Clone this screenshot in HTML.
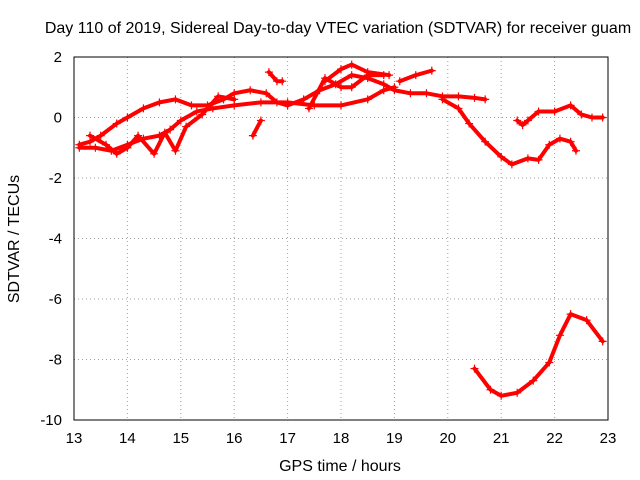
<!DOCTYPE html>
<html><head><meta charset="utf-8"><style>
body{margin:0;background:#fff}
svg{display:block;font-family:"Liberation Sans",sans-serif}
</style></head><body>
<svg id="chart" width="640" height="480" viewBox="0 0 640 480" xmlns="http://www.w3.org/2000/svg">
<rect width="640" height="480" fill="#fff"/>
<text x="338" y="33" font-size="16" text-anchor="middle">Day 110 of 2019, Sidereal Day-to-day VTEC variation (SDTVAR) for receiver guam</text>
<text x="340" y="471" font-size="16" text-anchor="middle">GPS time / hours</text>
<text x="19" y="239" font-size="16" text-anchor="middle" transform="rotate(-90 19 239)">SDTVAR / TECUs</text>
<g id="grid"></g>
<g id="ticks"></g>
<g id="series"></g>
<rect x="74" y="57" width="534" height="363" fill="none" stroke="#000" stroke-width="1"/>
</svg>
<script>
const xTicks=[13,14,15,16,17,18,19,20,21,22,23];
const yTicks=[2,0,-2,-4,-6,-8,-10];
const trackA=[[13.1,-0.9],[13.3,-0.8],[13.5,-0.6],[13.8,-0.2],[14.0,0.0],[14.3,0.3],[14.6,0.5],[14.9,0.6],[15.2,0.4],[15.5,0.4],[15.8,0.6],[16.0,0.8],[16.3,0.9],[16.6,0.8],[16.8,0.5],[17.0,0.4],[17.3,0.6],[17.6,0.9],[17.9,1.1],[18.2,1.4],[18.5,1.3],[18.8,1.1],[19.0,0.9],[19.3,0.8],[19.6,0.8],[19.9,0.7],[20.2,0.7],[20.5,0.65],[20.7,0.6]];
const trackB=[[13.1,-1.0],[13.4,-1.0],[13.7,-1.1],[14.0,-0.9],[14.3,-0.7],[14.6,-0.6],[14.8,-0.4],[15.0,-0.1],[15.3,0.2],[15.6,0.3],[16.0,0.4],[16.5,0.5],[17.0,0.5],[17.5,0.4],[18.0,0.4],[18.5,0.6],[18.8,0.9],[19.0,1.0]];
const trackC=[[13.3,-0.6],[13.6,-0.9],[13.8,-1.2],[14.0,-1.0],[14.2,-0.6],[14.5,-1.2],[14.7,-0.5],[14.9,-1.1],[15.1,-0.3],[15.4,0.1],[15.7,0.7],[16.0,0.6]];
const trackD=[[17.4,0.3],[17.7,1.3],[18.0,1.0],[18.2,1.0],[18.5,1.4],[18.8,1.4]];
const trackE=[[17.7,1.2],[18.0,1.6],[18.2,1.75],[18.5,1.5],[18.9,1.4]];
const trackF=[[19.1,1.2],[19.4,1.4],[19.7,1.55]];
const trackG=[[19.9,0.6],[20.2,0.3],[20.4,-0.2],[20.7,-0.8],[21.0,-1.3],[21.2,-1.55],[21.5,-1.35],[21.7,-1.4],[21.9,-0.9],[22.1,-0.7],[22.3,-0.8],[22.4,-1.1]];
const trackH=[[21.3,-0.1],[21.4,-0.25],[21.5,-0.1],[21.7,0.2],[22.0,0.2],[22.3,0.4],[22.5,0.1],[22.7,0.0],[22.9,0.0]];
const trackI=[[20.5,-8.3],[20.8,-9.0],[21.0,-9.2],[21.3,-9.1],[21.6,-8.7],[21.9,-8.1],[22.1,-7.2],[22.3,-6.5],[22.6,-6.7],[22.9,-7.4]];
const trackJ=[[16.35,-0.6],[16.5,-0.1]];
const trackK=[[16.65,1.5],[16.8,1.2],[16.9,1.2]];
const tracks=[trackA,trackB,trackC,trackD,trackE,trackF,trackG,trackH,trackI,trackJ,trackK];
const NS="http://www.w3.org/2000/svg";
const X=v=>74+(v-13)*53.4, Y=v=>57+(2-v)*30.25;
const grid=document.getElementById('grid'),ticks=document.getElementById('ticks'),ser=document.getElementById('series');
function mk(t,a,p){const e=document.createElementNS(NS,t);for(const k in a)e.setAttribute(k,a[k]);p.appendChild(e);return e;}
xTicks.forEach(t=>{const x=X(t);
 if(t>13&&t<23){const l=mk('line',{x1:x,x2:x,y1:57,y2:420,stroke:'#a0a0a0','stroke-dasharray':'1,3'},grid);}
 const tx=mk('text',{x:x,y:443,'font-size':15,'text-anchor':'middle'},ticks);tx.textContent=t;
 });
yTicks.forEach(t=>{const y=Y(t);
 if(t<2&&t>-10){const l=mk('line',{x1:74,x2:608,y1:y,y2:y,stroke:'#a0a0a0','stroke-dasharray':'1,3'},grid);}
 const tx=mk('text',{x:62,y:y+5,'font-size':15,'text-anchor':'end'},ticks);tx.textContent=t;
 });
tracks.forEach(tr=>{
 const pl=mk('polyline',{points:tr.map(p=>X(p[0])+','+Y(p[1])).join(' '),fill:'none',stroke:'#f00','stroke-width':4,'stroke-linejoin':'round','stroke-linecap':'round'},ser);
 
 
 tr.forEach(p=>{const x=X(p[0]),y=Y(p[1]);
  const m=mk('path',{d:`M${x-4},${y}H${x+4}M${x},${y-4}V${y+4}`,stroke:'#f00','stroke-width':1.2},ser);
  
  });
});
</script>
</body></html>
